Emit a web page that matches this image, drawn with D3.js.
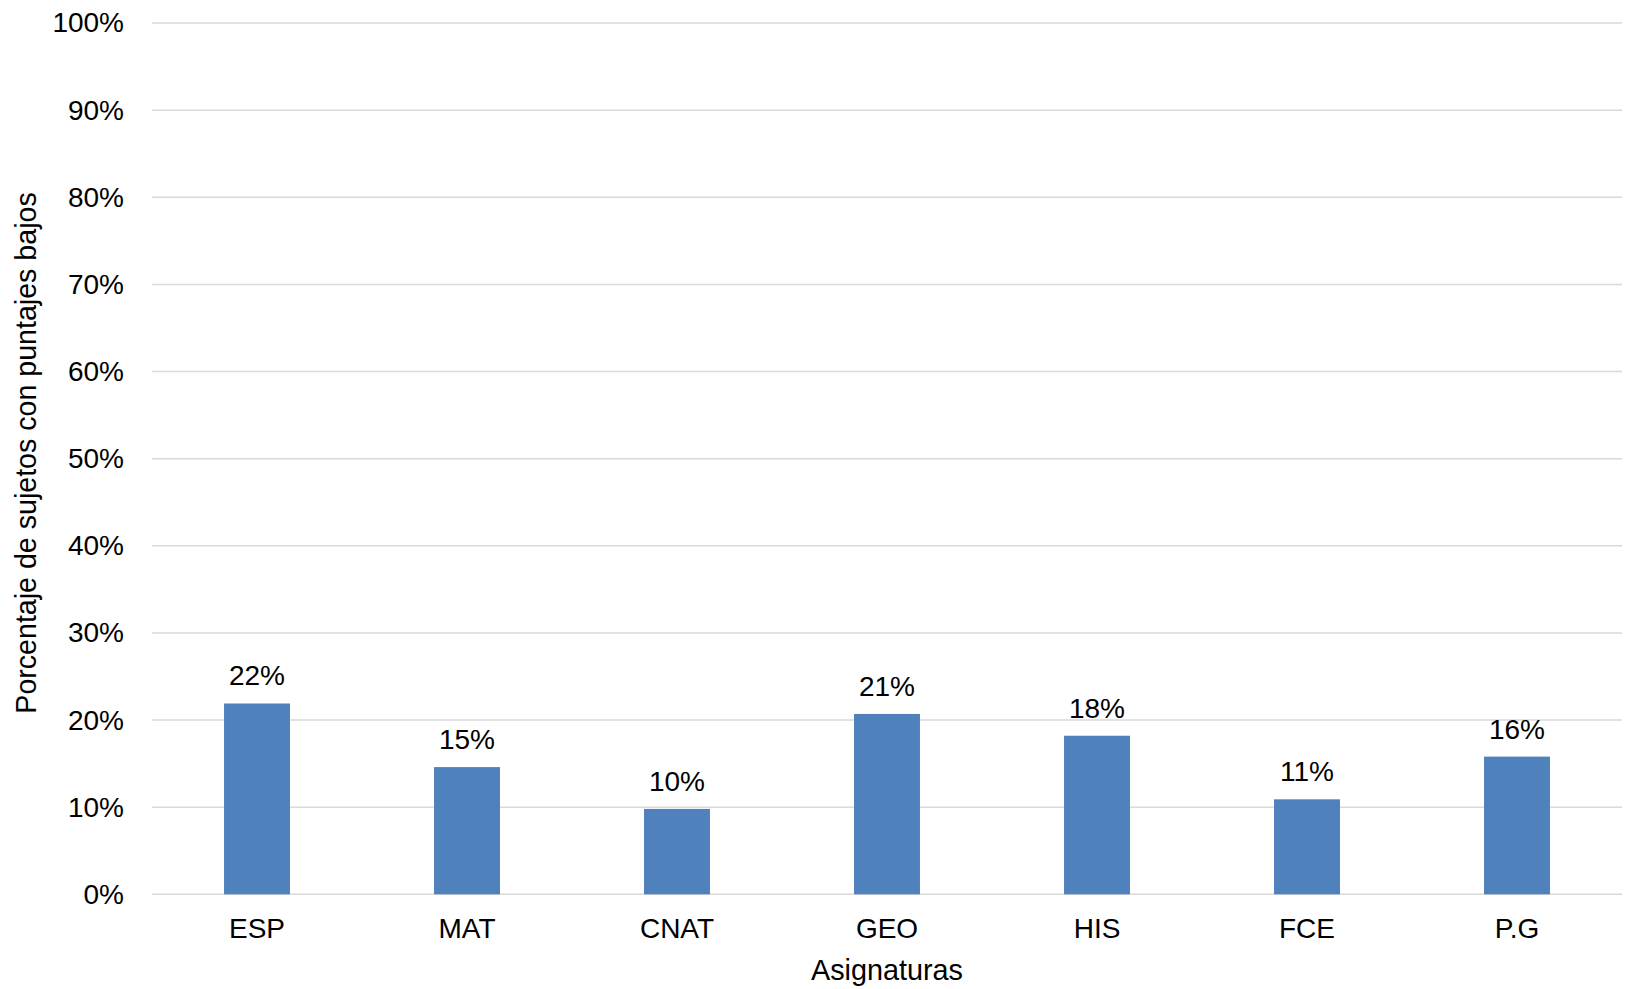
<!DOCTYPE html>
<html>
<head>
<meta charset="utf-8">
<script src="https://cdn.jsdelivr.net/npm/d3@7"></script>
<style>
  html, body { margin: 0; padding: 0; background: #fff; }
  svg { display: block; }
  text { font-family: "Liberation Sans", Arial, sans-serif; fill: #000; }
</style>
</head>
<body>
<div id="chart"></div>
<script>
// Subjects and share of students with low scores
const categories = ["ESP", "MAT", "CNAT", "GEO", "HIS", "FCE", "P.G"];
const values = [0.219, 0.146, 0.098, 0.207, 0.182, 0.109, 0.158];
const yTicks = [0, 0.1, 0.2, 0.3, 0.4, 0.5, 0.6, 0.7, 0.8, 0.9, 1.0];
const xTitle = "Asignaturas";
const yTitle = "Porcentaje de sujetos con puntajes bajos";

const width = 1634, height = 989;
const margin = { top: 23, right: 12, bottom: 94.7, left: 152 };
const plotW = width - margin.left - margin.right;
const plotH = height - margin.top - margin.bottom;

const svg = d3.select("#chart").append("svg")
  .attr("width", width)
  .attr("height", height);

const g = svg.append("g").attr("transform", `translate(${margin.left},${margin.top})`);

const x = d3.scaleBand().domain(categories).range([0, plotW]).paddingInner(0.686).paddingOuter(0.343);
const y = d3.scaleLinear().domain([0, 1]).range([plotH, 0]);
const pct = d3.format(".0%");

// Horizontal gridlines
g.append("g")
  .selectAll("line")
  .data(yTicks)
  .join("line")
  .attr("x1", 0)
  .attr("x2", plotW)
  .attr("y1", d => y(d))
  .attr("y2", d => y(d))
  .attr("stroke", "#d9d9d9")
  .attr("stroke-width", 1.5);

// Y axis tick labels
const yAxis = g.append("g")
  .call(d3.axisLeft(y).tickValues(yTicks).tickFormat(pct).tickSize(0).tickPadding(28));
yAxis.select(".domain").remove();
yAxis.selectAll("text")
  .attr("font-size", 28)
  .attr("font-family", "Liberation Sans, Arial, sans-serif")
  .attr("fill", "#000");

// Bars
const data = categories.map((c, i) => ({ cat: c, value: values[i] }));
g.append("g")
  .selectAll("rect")
  .data(data)
  .join("rect")
  .attr("x", d => x(d.cat))
  .attr("y", d => y(d.value))
  .attr("width", x.bandwidth())
  .attr("height", d => plotH - y(d.value))
  .attr("fill", "#4f81bd");

// Value labels above bars
g.append("g")
  .selectAll("text")
  .data(data)
  .join("text")
  .attr("x", d => x(d.cat) + x.bandwidth() / 2)
  .attr("y", d => y(d.value) - 18)
  .attr("text-anchor", "middle")
  .attr("font-size", 28)
  .text(d => pct(d.value));

// X axis category labels
const xAxis = g.append("g")
  .attr("transform", `translate(0,${plotH})`)
  .call(d3.axisBottom(x).tickSize(0).tickPadding(24));
xAxis.select(".domain").remove();
xAxis.selectAll("text")
  .attr("font-size", 28)
  .attr("font-family", "Liberation Sans, Arial, sans-serif")
  .attr("fill", "#000");

// Axis titles
svg.append("text")
  .attr("x", margin.left + plotW / 2)
  .attr("y", 980)
  .attr("text-anchor", "middle")
  .attr("font-size", 28.8)
  .text(xTitle);

svg.append("text")
  .attr("transform", "translate(36,453) rotate(-90)")
  .attr("text-anchor", "middle")
  .attr("font-size", 28.6)
  .text(yTitle);
</script>
</body>
</html>
